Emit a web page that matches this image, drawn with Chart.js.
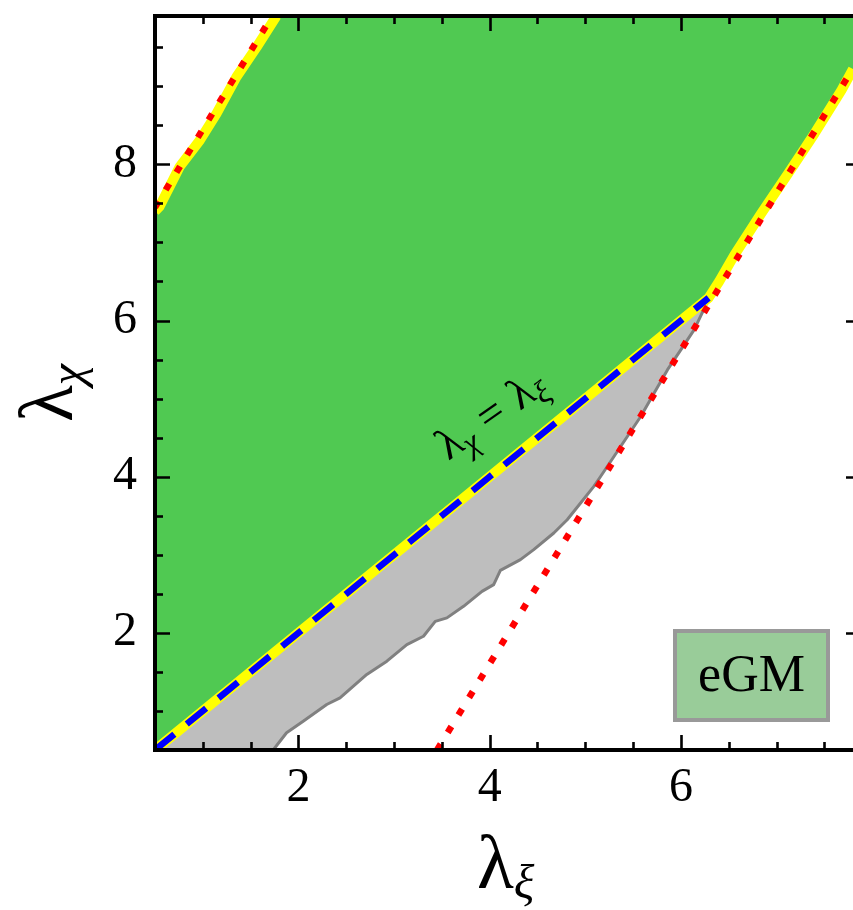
<!DOCTYPE html>
<html><head><meta charset="utf-8">
<style>html,body{margin:0;padding:0;background:#fff;overflow:hidden}#wrap{position:relative;width:853px;height:910px}</style>
<script src="https://cdn.jsdelivr.net/npm/chart.js@4/dist/chart.umd.min.js"></script>
</head><body><div id="wrap"><canvas id="c" width="853" height="910"></canvas></div>
<script>
// ---- data ----
const xTicks = [2, 4, 6];
const yTicks = [2, 4, 6, 8];
const xRange = [0.5, 7.8];
const yRange = [0.5, 9.9];
const diagX = [0.5, 6.29];
const diagY = [0.5, 6.29];
const upperEdgeX = [0.5, 0.548, 0.758, 0.97, 1.143, 1.352, 1.562, 1.77];
const upperEdgeY = [7.40, 7.46, 7.97, 8.31, 8.65, 9.12, 9.50, 9.90];
const rightEdgeX = [6.29, 6.40, 6.56, 6.84, 7.12, 7.40, 7.68, 7.80];
const rightEdgeY = [6.27, 6.50, 6.84, 7.37, 7.88, 8.40, 8.95, 9.22];
const greyEdgeX = [1.736, 1.876, 2.050, 2.296, 2.435, 2.715, 2.925, 3.134, 3.308, 3.431, 3.553, 3.727, 3.920, 4.042, 4.112, 4.322, 4.461, 4.671, 4.811, 4.951, 5.090, 5.160, 5.300, 5.440, 5.580, 5.719, 5.859, 5.999, 6.138, 6.29];
const greyEdgeY = [0.50, 0.721, 0.869, 1.083, 1.168, 1.467, 1.637, 1.850, 1.957, 2.148, 2.192, 2.340, 2.532, 2.618, 2.80, 2.938, 3.066, 3.279, 3.449, 3.663, 3.876, 4.003, 4.259, 4.515, 4.771, 5.070, 5.368, 5.624, 5.880, 6.27];
const redUpperX = [0.5, 1.725];
const redUpperY = [7.45, 9.9];
const redLowerX = [3.45, 7.8];
const redLowerY = [0.5, 9.23];
const boxLabel = 'eGM';

// ---- build point lists ----
const pts = (xs, ys) => xs.map((v, i) => ({x: v, y: ys[i]}));
const lowerGreen = pts(diagX, diagY).concat(pts(rightEdgeX, rightEdgeY).slice(1));
const greenPoly = lowerGreen
  .concat([{x: xRange[1], y: yRange[1]}])
  .concat(pts(upperEdgeX, upperEdgeY).reverse());
const greyPoly = pts(diagX, diagY).concat(pts(greyEdgeX, greyEdgeY).reverse());

const base = {showLine: true, pointRadius: 0, pointHoverRadius: 0, tension: 0, clip: 0, fill: false, borderCapStyle: 'butt', borderJoinStyle: 'round'};

const SERIF = '"Liberation Serif", "Times New Roman", serif';

const deco = {
  id: 'deco',
  afterDatasetsDraw(chart) {
    const {ctx, scales: {x, y}} = chart;
    // rotated annotation along the diagonal
    ctx.save();
    ctx.translate(x.getPixelForValue(3.57), y.getPixelForValue(4.2));
    ctx.rotate(-35 * Math.PI / 180);
    ctx.fillStyle = '#000';
    ctx.textBaseline = 'alphabetic';
    ctx.textAlign = 'left';
    let cx = 0;
    const seg = (t, size, italic, dy) => {
      ctx.font = (italic ? 'italic ' : '') + size + 'px ' + SERIF;
      ctx.fillText(t, cx, dy);
      cx += ctx.measureText(t).width;
    };
    seg('λ', 45, false, 0); seg('χ', 32, true, 8);
    cx += 13; seg('=', 45, false, 0); cx += 13;
    seg('λ', 45, false, 0); seg('ξ', 32, true, 8);
    ctx.restore();
  },
  afterDraw(chart) {
    const {ctx, chartArea: a, scales: {x, y}} = chart;
    ctx.save();
    // frame
    ctx.strokeStyle = '#000';
    ctx.lineWidth = 4;
    ctx.lineCap = 'square';
    ctx.beginPath();
    ctx.moveTo(a.right + 2, a.top); ctx.lineTo(a.left, a.top); ctx.lineTo(a.left, a.bottom); ctx.lineTo(a.right + 2, a.bottom);
    ctx.stroke();
    // ticks (inward)
    ctx.lineWidth = 2.6;
    ctx.lineCap = 'butt';
    const MAJ = 15, MIN = 8;
    for (let v = 1; v <= xRange[1] + 1e-9; v += 0.5) {
      const px = Math.round(x.getPixelForValue(v)) + 0.5;
      const L = xTicks.includes(v) ? MAJ : MIN;
      ctx.beginPath();
      ctx.moveTo(px, a.bottom); ctx.lineTo(px, a.bottom - L);
      ctx.moveTo(px, a.top); ctx.lineTo(px, a.top + L);
      ctx.stroke();
    }
    for (let v = 1; v <= yRange[1] + 1e-9; v += 0.5) {
      const py = Math.round(y.getPixelForValue(v)) + 0.5;
      const major = yTicks.includes(v);
      const L = major ? MAJ : MIN;
      ctx.beginPath();
      ctx.moveTo(a.left, py); ctx.lineTo(a.left + L, py);
      if (major) { ctx.moveTo(a.right + 8, py); ctx.lineTo(a.right + 8 - MAJ, py); }
      ctx.stroke();
    }
    // axis titles
    ctx.fillStyle = '#000';
    ctx.textAlign = 'left';
    ctx.textBaseline = 'alphabetic';
    ctx.font = '76px ' + SERIF;
    ctx.fillText('λ', 477, 888);
    let w = ctx.measureText('λ').width;
    ctx.font = 'italic 48px ' + SERIF;
    ctx.fillText('ξ', 477 + w, 898);
    ctx.save();
    ctx.translate(72, 422);
    ctx.rotate(-Math.PI / 2);
    ctx.font = '76px ' + SERIF;
    ctx.fillText('λ', 0, 0);
    w = ctx.measureText('λ').width;
    ctx.font = 'italic 48px ' + SERIF;
    ctx.fillText('χ', w, 11);
    ctx.restore();
    // label box
    const bx = a.right - 178, by = a.bottom - 119, bw = 153, bh = 89;
    ctx.fillStyle = 'rgb(153,204,153)';
    ctx.fillRect(bx, by, bw, bh);
    ctx.strokeStyle = 'rgb(153,153,153)';
    ctx.lineWidth = 4;
    ctx.strokeRect(bx, by, bw, bh);
    ctx.fillStyle = '#000';
    ctx.textAlign = 'center';
    ctx.font = '52px ' + SERIF;
    ctx.fillText(boxLabel, bx + bw / 2, by + 60);
    ctx.restore();
  }
};

const zeroPad = s => { s.paddingTop = 0; s.paddingBottom = 0; s.paddingLeft = 0; s.paddingRight = 0; };

new Chart(document.getElementById('c'), {
  type: 'scatter',
  data: {
    datasets: [
      Object.assign({}, base, {label: 'redUpper', data: pts(redUpperX, redUpperY), borderColor: '#ff0000', borderWidth: 6.5, borderDash: [7, 13.5], order: 1}),
      Object.assign({}, base, {label: 'redLower', data: pts(redLowerX, redLowerY), borderColor: '#ff0000', borderWidth: 6.5, borderDash: [7, 13.5], order: 2}),
      Object.assign({}, base, {label: 'diag', data: pts(diagX, diagY), borderColor: '#0000ff', borderWidth: 6.5, borderDash: [25, 16], order: 3}),
      Object.assign({}, base, {label: 'yellowUpper', data: pts(upperEdgeX, upperEdgeY), borderColor: '#ffff00', borderWidth: 10, order: 4}),
      Object.assign({}, base, {label: 'yellowLower', data: lowerGreen, borderColor: '#ffff00', borderWidth: 10, order: 5}),
      Object.assign({}, base, {label: 'greyEdge', data: pts(greyEdgeX, greyEdgeY), borderColor: 'rgb(128,128,128)', borderWidth: 3, order: 6}),
      Object.assign({}, base, {label: 'greyFill', data: greyPoly, borderColor: 'rgba(0,0,0,0)', borderWidth: 0, backgroundColor: 'rgb(190,190,190)', fill: 'shape', order: 7}),
      Object.assign({}, base, {label: 'greenFill', data: greenPoly, borderColor: 'rgba(0,0,0,0)', borderWidth: 0, backgroundColor: 'rgb(80,201,82)', fill: 'shape', order: 8})
    ]
  },
  options: {
    responsive: false,
    devicePixelRatio: 1,
    animation: false,
    events: [],
    layout: {padding: {top: 16, left: 0, right: 0, bottom: 0}, autoPadding: false},
    plugins: {legend: {display: false}, tooltip: {enabled: false}, title: {display: false}},
    scales: {
      x: {
        type: 'linear', min: xRange[0], max: xRange[1],
        grid: {display: false, drawTicks: false}, border: {display: false},
        afterBuildTicks: s => { s.ticks = xTicks.map(v => ({value: v})); },
        afterFit: s => { s.height = 160; zeroPad(s); },
        ticks: {padding: 10, color: '#000', font: {family: SERIF, size: 48}, maxRotation: 0}
      },
      y: {
        type: 'linear', min: yRange[0], max: yRange[1],
        grid: {display: false, drawTicks: false}, border: {display: false},
        afterBuildTicks: s => { s.ticks = yTicks.map(v => ({value: v})); },
        afterFit: s => { s.width = 155; zeroPad(s); },
        ticks: {padding: 18, color: '#000', font: {family: SERIF, size: 48}}
      }
    }
  },
  plugins: [deco]
});
</script></body></html>
